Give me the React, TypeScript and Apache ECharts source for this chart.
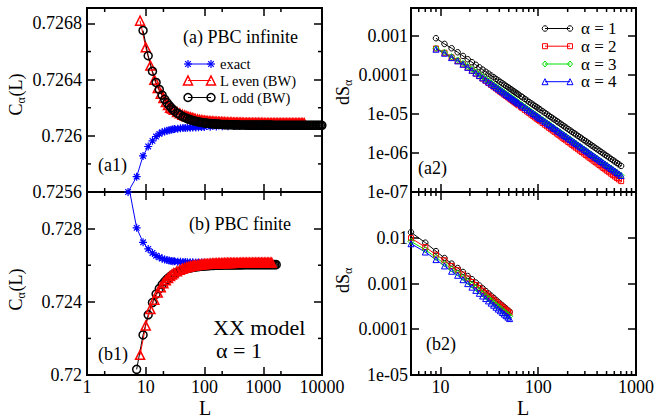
import React, { useEffect, useRef } from 'react';
import * as echarts from 'echarts';

const FONT = 'Liberation Serif, serif';

// ---------- panel (a1): PBC infinite ----------
const L_exact_a = [5,7,9,11,13,15,17,19,21,23,25,27,29,31,35,39,43,47,51,57,63,71,79,89,99,125,159,201,251,317,399,501,631,795,1001];
const C_exact_a = [0.7256,0.725709,0.725857,0.725924,0.725964,0.725995,0.726014,0.726025,0.726031,0.726036,0.72604,0.726043,0.726046,0.726048,0.726051,0.726053,0.726055,0.726056,0.726057,0.726058,0.726059,0.72606,0.726061,0.726062,0.726063,0.726064,0.726066,0.726068,0.726069,0.72607,0.72607,0.72607,0.72607,0.72607,0.72607];

const L_even_a = [8,10,12,14,16,18,20,22,24,26,28,30,34,38,42,46,50,54,58,62,66,70,76,82,88,94,100,106,112,120,128,136,144,152,162,172,182,194,206,218,232,246,260,276,292,310,328,348,368,390,414,438,464,492,522,552,586,620,658,696,738,782,828,878,930,986,1044,1106,1172,1242,1316,1394,1478,1566,1660,1758,1862,1974,2092,2216,2348,2488,2636,2792,2958,3134,3320,3518,3728,3950,4186,4434,4698,4978];
const C_even_a = [0.72682,0.72663,0.7265,0.7264,0.72634,0.7263,0.72627,0.72624,0.72622,0.7262,0.726195,0.726185,0.72617,0.72616,0.72615,0.726145,0.72614,0.726135,0.726131,0.726127,0.726123,0.72612,0.726117,0.726114,0.726111,0.726109,0.726107,0.726106,0.726105,0.726104,0.726103,0.726102,0.726101,0.7261,0.7261,0.726099,0.726098,0.726098,0.726097,0.726097,0.726096,0.726096,0.726095,0.726095,0.726095,0.726094,0.726094,0.726094,0.726093,0.726093,0.726093,0.726093,0.726092,0.726092,0.726092,0.726092,0.726091,0.726091,0.726091,0.726091,0.726091,0.726091,0.726091,0.726091,0.726091,0.726091,0.72609,0.72609,0.72609,0.72609,0.72609,0.72609,0.72609,0.72609,0.72609,0.72609,0.72609,0.72609,0.72609,0.72609,0.72609,0.72609,0.72609,0.72609,0.72609,0.72609,0.72609,0.72609,0.72609,0.72609,0.72609,0.72609,0.72609,0.72609];

const L_odd_a = [9,11,13,15,17,19,21,23,25,27,29,31,35,39,43,47,51,55,59,63,67,71,77,83,89,95,101,107,113,121,129,137,145,153,163,173,183,195,207,219,233,247,261,277,293,311,329,349,369,391,415,439,465,493,523,553,587,621,659,697,739,783,829,879,931,987,1045,1107,1173,1243,1317,1395,1479,1567,1661,1759,1863,1975,2093,2217,2349,2489,2637,2793,2959,3135,3321,3519,3729,3951,4187,4435,4699,4979,5275,5589,5921,6273,6647,7043,7461,7905,8375,8873,9401,9959];
const C_odd_a = [0.72675,0.72657,0.72646,0.72638,0.72633,0.72629,0.72626,0.726236,0.726217,0.726201,0.726187,0.726176,0.726159,0.726147,0.726136,0.726129,0.726122,0.726117,0.726113,0.726109,0.726106,0.726104,0.7261,0.726098,0.726095,0.726093,0.726092,0.726091,0.726089,0.726088,0.726087,0.726086,0.726085,0.726084,0.726083,0.726083,0.726082,0.726081,0.726081,0.72608,0.72608,0.72608,0.726079,0.726079,0.726079,0.726078,0.726078,0.726078,0.726078,0.726077,0.726077,0.726077,0.726077,0.726077,0.726076,0.726076,0.726076,0.726076,0.726076,0.726076,0.726076,0.726076,0.726076,0.726076,0.726076,0.726076,0.726076,0.726076,0.726076,0.726076,0.726076,0.726076,0.726075,0.726075,0.726075,0.726075,0.726075,0.726075,0.726075,0.726075,0.726075,0.726075,0.726075,0.726075,0.726075,0.726075,0.726075,0.726075,0.726075,0.726075,0.726075,0.726075,0.726075,0.726075,0.726075,0.726075,0.726075,0.726075,0.726075,0.726075,0.726075,0.726075,0.726075,0.726075,0.726075,0.726075];

// ---------- panel (b1): PBC finite ----------
const L_exact_b = [5,7,9,11,13,15,17,19,21,23,25,27,29,31,35,39,43,47,51,57,63,71,79,89,99,125,159,201,251,317,399,501,631,795,1001];
const C_exact_b = [0.7305,0.72804,0.72725,0.72689,0.72667,0.72652,0.72643,0.72636,0.72631,0.72628,0.726255,0.72623,0.72622,0.72621,0.726195,0.726185,0.726175,0.72617,0.726165,0.72616,0.726155,0.726152,0.72615,0.726148,0.726147,0.726146,0.726145,0.726145,0.726144,0.726144,0.726144,0.726143,0.726143,0.726143,0.726143];

const L_odd_b = [7,9,11,13,15,17,19,21,23,25,27,29,31,35,39,43,47,51,55,59,63,67,71,77,83,89,95,101,107,113,121,129,137,145,153,163,173,183,195,207,219,233,247,261,277,293,311,329,349,369,391,415,439,465,493,523,553,587,621,659,697,739,783,829,879,931,987,1045,1107,1173,1243,1317,1395,1479,1567,1661];
const C_odd_b = [0.72031,0.72219,0.72329,0.72396,0.72442,0.72472,0.72494,0.725106,0.725235,0.725337,0.72542,0.725487,0.725544,0.725632,0.725697,0.725746,0.725785,0.725816,0.725841,0.725862,0.725879,0.725894,0.725906,0.725922,0.725934,0.725944,0.725953,0.725961,0.725967,0.725972,0.725979,0.725984,0.725988,0.725992,0.725995,0.725999,0.726002,0.726004,0.726007,0.726009,0.726011,0.726013,0.726014,0.726015,0.726017,0.726018,0.726019,0.72602,0.726021,0.726022,0.726022,0.726023,0.726023,0.726024,0.726024,0.726025,0.726025,0.726026,0.726026,0.726026,0.726027,0.726027,0.726027,0.726028,0.726028,0.726028,0.726028,0.726029,0.726029,0.726029,0.726029,0.72603,0.72603,0.72603,0.72603,0.72603];

const L_even_b = [8,10,12,14,16,18,20,22,24,26,28,30,34,38,42,46,50,54,58,62,66,70,76,82,88,94,100,106,112,120,128,136,144,152,162,172,182,194,206,218,232,246,260,276,292,310,328,348,368,390,414,438,464,492,522,552,586,620,658,696,738,782,828,878,930,986,1044,1106,1172,1242,1316,1394];
const C_even_b = [0.7211,0.7227,0.7236,0.72411,0.72451,0.7248,0.725013,0.725178,0.725306,0.725409,0.725493,0.725563,0.72567,0.725748,0.72581,0.725854,0.725892,0.725921,0.725946,0.725966,0.725983,0.725997,0.726016,0.72603,0.726042,0.726052,0.726061,0.726068,0.726074,0.726081,0.726087,0.726092,0.726097,0.7261,0.726104,0.726108,0.726111,0.726113,0.726116,0.726118,0.72612,0.726122,0.726124,0.726125,0.726126,0.726128,0.726129,0.72613,0.726131,0.726131,0.726132,0.726133,0.726133,0.726134,0.726134,0.726135,0.726135,0.726136,0.726136,0.726137,0.726137,0.726137,0.726138,0.726138,0.726138,0.726138,0.726139,0.726139,0.726139,0.72614,0.72614,0.72614];

// ---------- panel (a2): dS_alpha, infinite ----------
const L_a2 = [9,11,13,15,17,19,21,23,25,27,29,31,33,35,37,39,41,43,45,47,49,51,53,55,57,59,61,63,67,69,73,77,81,85,89,93,97,101,105,111,117,123,129,135,141,147,155,161,169,177,185,193,203,213,223,233,243,255,267,279,293,307,321,335,351,367,385,403,423,443,463,485,507,531,557,583,609,639,669,705];
const dS1_a2 = [8.73e-4,6.24e-4,4.84e-4,3.82e-4,3.07e-4,2.53e-4,2.12e-4,1.82e-4,1.57e-4,1.37e-4,1.21e-4,1.08e-4,9.67e-5,8.73e-5,7.92e-5,7.23e-5,6.62e-5,6.10e-5,5.63e-5,5.22e-5,4.86e-5,4.53e-5,4.24e-5,3.97e-5,3.73e-5,3.51e-5,3.32e-5,3.13e-5,2.82e-5,2.68e-5,2.43e-5,2.21e-5,2.02e-5,1.86e-5,1.72e-5,1.59e-5,1.48e-5,1.38e-5,1.29e-5,1.17e-5,1.07e-5,9.77e-6,8.99e-6,8.31e-6,7.70e-6,7.16e-6,6.53e-6,6.11e-6,5.62e-6,5.18e-6,4.80e-6,4.46e-6,4.08e-6,3.76e-6,3.47e-6,3.21e-6,2.99e-6,2.75e-6,2.53e-6,2.35e-6,2.15e-6,1.99e-6,1.84e-6,1.71e-6,1.57e-6,1.46e-6,1.34e-6,1.24e-6,1.14e-6,1.05e-6,9.71e-7,8.96e-7,8.29e-7,7.65e-7,7.04e-7,6.50e-7,6.02e-7,5.54e-7,5.11e-7,4.67e-7];
const dS2_a2 = [4.77e-4,3.70e-4,2.82e-4,2.29e-4,1.86e-4,1.54e-4,1.28e-4,1.08e-4,9.29e-5,8.04e-5,7.06e-5,6.22e-5,5.55e-5,4.98e-5,4.49e-5,4.07e-5,3.71e-5,3.40e-5,3.12e-5,2.88e-5,2.67e-5,2.48e-5,2.31e-5,2.15e-5,2.01e-5,1.89e-5,1.78e-5,1.67e-5,1.49e-5,1.41e-5,1.27e-5,1.15e-5,1.05e-5,9.60e-6,8.82e-6,8.13e-6,7.52e-6,6.97e-6,6.49e-6,5.86e-6,5.31e-6,4.84e-6,4.43e-6,4.07e-6,3.76e-6,3.48e-6,3.15e-6,2.94e-6,2.68e-6,2.46e-6,2.27e-6,2.10e-6,1.91e-6,1.75e-6,1.61e-6,1.48e-6,1.37e-6,1.25e-6,1.15e-6,1.06e-6,9.68e-7,8.88e-7,8.18e-7,7.55e-7,6.93e-7,6.37e-7,5.83e-7,5.36e-7,4.90e-7,4.50e-7,4.14e-7,3.80e-7,3.50e-7,3.21e-7,2.94e-7,2.70e-7,2.49e-7,2.28e-7,2.10e-7,1.90e-7];
const dS3_a2 = [4.83e-4,3.82e-4,2.95e-4,2.43e-4,1.99e-4,1.66e-4,1.40e-4,1.19e-4,1.03e-4,8.96e-5,7.91e-5,7.02e-5,6.16e-5,5.55e-5,5.03e-5,4.58e-5,4.19e-5,3.85e-5,3.55e-5,3.28e-5,3.05e-5,2.84e-5,2.65e-5,2.48e-5,2.33e-5,2.19e-5,2.06e-5,1.95e-5,1.74e-5,1.66e-5,1.50e-5,1.36e-5,1.24e-5,1.14e-5,1.05e-5,9.72e-6,9.02e-6,8.39e-6,7.83e-6,7.09e-6,6.46e-6,5.91e-6,5.43e-6,5.01e-6,4.63e-6,4.30e-6,3.91e-6,3.66e-6,3.35e-6,3.09e-6,2.85e-6,2.65e-6,2.42e-6,2.22e-6,2.05e-6,1.89e-6,1.76e-6,1.61e-6,1.48e-6,1.37e-6,1.26e-6,1.16e-6,1.07e-6,9.91e-7,9.12e-7,8.41e-7,7.73e-7,7.12e-7,6.54e-7,6.02e-7,5.56e-7,5.12e-7,4.73e-7,4.36e-7,4.00e-7,3.69e-7,3.41e-7,3.13e-7,2.89e-7,2.63e-7];
const dS4_a2 = [4.56e-4,3.60e-4,2.78e-4,2.29e-4,1.88e-4,1.57e-4,1.32e-4,1.12e-4,9.70e-5,8.45e-5,7.46e-5,6.62e-5,5.93e-5,5.35e-5,4.85e-5,4.42e-5,4.04e-5,3.72e-5,3.43e-5,3.18e-5,2.95e-5,2.75e-5,2.57e-5,2.41e-5,2.26e-5,2.13e-5,2.00e-5,1.89e-5,1.70e-5,1.61e-5,1.46e-5,1.33e-5,1.21e-5,1.12e-5,1.03e-5,9.51e-6,8.83e-6,8.22e-6,7.68e-6,6.96e-6,6.34e-6,5.80e-6,5.34e-6,4.93e-6,4.56e-6,4.24e-6,3.86e-6,3.61e-6,3.31e-6,3.05e-6,2.82e-6,2.62e-6,2.40e-6,2.20e-6,2.03e-6,1.88e-6,1.74e-6,1.60e-6,1.48e-6,1.37e-6,1.25e-6,1.15e-6,1.07e-6,9.89e-7,9.10e-7,8.41e-7,7.73e-7,7.13e-7,6.55e-7,6.03e-7,5.58e-7,5.14e-7,4.75e-7,4.38e-7,4.02e-7,3.71e-7,3.44e-7,3.16e-7,2.91e-7,2.65e-7];

// ---------- panel (b2): dS_alpha, finite ----------
const L_b2 = [5,7,9,11,13,15,17,19,21,23,25,27,29,31,33,35,37,39,41,43,45,47,49,51];
const dS1_b2 = [0.0132,0.0078,0.0051,0.0036,0.00272,0.00218,0.00179,0.00146,0.00124,0.00105,9.02e-4,7.82e-4,6.85e-4,6.05e-4,5.40e-4,4.84e-4,4.37e-4,3.96e-4,3.60e-4,3.30e-4,3.04e-4,2.81e-4,2.59e-4,2.41e-4];
const dS2_b2 = [0.0098,0.00625,0.00427,0.00321,0.00242,0.00195,1.57e-3,1.29e-3,1.08e-3,9.23e-4,7.98e-4,6.97e-4,6.15e-4,5.47e-4,4.91e-4,4.43e-4,4.02e-4,3.66e-4,3.36e-4,3.09e-4,2.85e-4,2.64e-4,2.45e-4,2.29e-4];
const dS3_b2 = [8.3e-3,5.45e-3,3.73e-3,2.71e-3,2.07e-3,1.69e-3,1.36e-3,1.11e-3,9.32e-4,7.93e-4,6.83e-4,5.96e-4,5.24e-4,4.66e-4,4.17e-4,3.75e-4,3.39e-4,3.09e-4,2.83e-4,2.60e-4,2.40e-4,2.22e-4,2.06e-4,1.92e-4];
const dS4_b2 = [7.4e-3,4.87e-3,3.33e-3,2.42e-3,1.85e-3,1.51e-3,1.21e-3,9.93e-4,8.32e-4,7.08e-4,6.10e-4,5.32e-4,4.68e-4,4.16e-4,3.72e-4,3.35e-4,3.03e-4,2.76e-4,2.53e-4,2.32e-4,2.14e-4,1.98e-4,1.84e-4,1.71e-4];

// ---------- axes / ticks ----------
const X_RANGE_LEFT = [1, 10000];
const X_RANGE_RIGHT = [5, 1000];
const Y_A1 = { min: 0.7256, max: 0.72691, interval: 0.0004 };
const Y_B1 = { min: 0.72, max: 0.73, interval: 0.004 };
const Y_A2 = { min: 1e-7, max: 0.0052 };
const Y_B2 = { min: 1e-5, max: 0.1 };
const MINOR_X_LEFT = [2, 20, 200, 2000];
const MINOR_X_RIGHT = [6, 7, 8, 9, 20, 30, 40, 50, 60, 70, 80, 90, 200, 300, 400, 500, 600, 700, 800, 900];
const MINOR_Y_A1 = [0.7258, 0.7262, 0.7266];
const MINOR_Y_B1 = [0.722, 0.726];

const BLUE = '#0000ff';
const RED = '#ff0000';
const GREEN = '#00e000';
const BLACK = '#000000';
const CLEAR = 'rgba(0,0,0,0)';
const STAR = 'path://M5 0L5 10M0 5L10 5M1.5 1.5L8.5 8.5M1.5 8.5L8.5 1.5';

const pairs = (xs: number[], ys: number[]) => xs.map((x, i) => [x, ys[i]]);

function fmtLog(v: number) {
  const e = Math.round(Math.log10(v));
  if (Math.abs(Math.log10(v) - e) > 0.01) return '';
  if (e >= 0) return String(Math.round(Math.pow(10, e)));
  if (e >= -4) return Math.pow(10, e).toFixed(-e);
  return '1e-' + String(-e).padStart(2, '0');
}

export default function App() {
  const ref = useRef<HTMLDivElement>(null);
  useEffect(() => {
    const el = ref.current as HTMLDivElement;
    const chart = echarts.init(el, null, { renderer: 'svg' });

    const grids = [
      { left: 87, top: 8, width: 235, height: 184 },
      { left: 87, top: 192, width: 235, height: 183 },
      { left: 411, top: 8, width: 225, height: 184 },
      { left: 411, top: 192, width: 225, height: 183 },
    ].map((g) => ({ ...g, show: true, borderColor: '#000', borderWidth: 2, backgroundColor: 'transparent', containLabel: false }));

    const tick = { show: true, inside: true, length: 8, lineStyle: { color: '#000', width: 1.5 } };
    const lbl = { fontFamily: FONT, fontSize: 18, color: '#000' };

    const xr = [X_RANGE_LEFT, X_RANGE_LEFT, X_RANGE_RIGHT, X_RANGE_RIGHT];
    const xAxes: any[] = [];
    for (let k = 0; k < 2; k++) {
      for (let i = 0; i < 4; i++) {
        xAxes.push({
          gridIndex: i,
          type: 'log',
          logBase: 10,
          min: xr[i][0],
          max: xr[i][1],
          position: k === 0 ? 'bottom' : 'top',
          axisLine: { show: false },
          axisTick: tick,
          splitLine: { show: false },
          axisLabel: {
            ...lbl,
            show: k === 0 && (i === 1 || i === 3),
            margin: 3,
            showMinLabel: i === 1,
            showMaxLabel: true,
            formatter: (v: number) => fmtLog(v),
          },
        });
      }
    }

    const yDefs: any[] = [
      { type: 'value', ...Y_A1, fmt: (v: number) => (v > 0.7269 ? '' : String(parseFloat(v.toFixed(4)))) },
      { type: 'value', ...Y_B1, fmt: (v: number) => (v > 0.729 ? '' : String(parseFloat(v.toFixed(3)))) },
      { type: 'log', ...Y_A2, fmt: fmtLog },
      { type: 'log', ...Y_B2, fmt: (v: number) => (v > 0.05 ? '' : fmtLog(v)) },
    ];
    const yAxes: any[] = [];
    for (let k = 0; k < 2; k++) {
      for (let i = 0; i < 4; i++) {
        const d = yDefs[i];
        const ax: any = {
          gridIndex: i,
          type: d.type,
          min: d.min,
          max: d.max,
          position: k === 0 ? 'left' : 'right',
          axisLine: { show: false },
          axisTick: tick,
          splitLine: { show: false },
          axisLabel: {
            ...lbl,
            show: k === 0,
            margin: i < 2 ? 5 : 3,
            showMinLabel: true,
            showMaxLabel: false,
            formatter: (v: number) => d.fmt(v),
          },
        };
        if (d.type === 'value') ax.interval = d.interval;
        if (d.type === 'log') ax.logBase = 10;
        yAxes.push(ax);
      }
    }

    const mk = (name: string, g: number, xs: number[], ys: number[], color: string, symbol: string, size: number, bw: number, clip: boolean) => ({
      name,
      type: 'line',
      xAxisIndex: g,
      yAxisIndex: g,
      data: pairs(xs, ys),
      symbol,
      symbolSize: size,
      showAllSymbol: true,
      clip,
      itemStyle: { color: CLEAR, borderColor: color, borderWidth: bw },
      lineStyle: { color, width: 1 },
      emphasis: { disabled: true },
    });

    const series = [
      mk('exact a', 0, L_exact_a, C_exact_a, BLUE, STAR, 8, 1.2, false),
      mk('even a', 0, L_even_a, C_even_a, RED, 'triangle', 9, 1.5, false),
      mk('odd a', 0, L_odd_a, C_odd_a, BLACK, 'circle', 8, 1.5, false),
      mk('exact b', 1, L_exact_b, C_exact_b, BLUE, STAR, 8, 1.2, true),
      mk('odd b', 1, L_odd_b, C_odd_b, BLACK, 'circle', 8, 1.5, true),
      mk('even b', 1, L_even_b, C_even_b, RED, 'triangle', 9, 1.5, true),
      mk('a1', 2, L_a2, dS1_a2, BLACK, 'circle', 5.5, 1, false),
      mk('a2', 2, L_a2, dS2_a2, RED, 'rect', 5, 1, false),
      mk('a3', 2, L_a2, dS3_a2, GREEN, 'diamond', 6, 1, false),
      mk('a4', 2, L_a2, dS4_a2, BLUE, 'triangle', 6, 1, false),
      mk('b1', 3, L_b2, dS1_b2, BLACK, 'circle', 5.5, 1, false),
      mk('b2', 3, L_b2, dS2_b2, RED, 'rect', 5, 1, false),
      mk('b3', 3, L_b2, dS3_b2, GREEN, 'diamond', 6, 1, false),
      mk('b4', 3, L_b2, dS4_b2, BLUE, 'triangle', 6, 1, false),
    ];

    chart.setOption({
      animation: false,
      backgroundColor: '#fff',
      grid: grids,
      xAxis: xAxes,
      yAxis: yAxes,
      series,
    });

    // ---------- graphics ----------
    const G: any[] = [];
    const line = (x1: number, y1: number, x2: number, y2: number, color = '#000', w = 1.5) =>
      G.push({ type: 'line', silent: true, z: 50, shape: { x1, y1, x2, y2 }, style: { stroke: color, lineWidth: w } });
    const text = (x: number, y: number, t: string, size: number, align = 'left', lh?: number) =>
      G.push({ type: 'text', silent: true, z: 50, x, y, style: { text: t, fontFamily: FONT, fontSize: size, lineHeight: lh || size, fill: '#000', align, verticalAlign: 'middle' } });

    // minor ticks
    const px = (ax: number, v: number) => chart.convertToPixel({ xAxisIndex: ax } as any, v) as unknown as number;
    const py = (ax: number, v: number) => chart.convertToPixel({ yAxisIndex: ax } as any, v) as unknown as number;
    const ML = 4;
    for (let i = 0; i < 4; i++) {
      const g = grids[i];
      const top = g.top, bot = g.top + g.height, left = g.left, right = g.left + g.width;
      const xs = i < 2 ? MINOR_X_LEFT : MINOR_X_RIGHT;
      xs.forEach((v) => {
        const x = px(i, v);
        line(x, bot, x, bot - ML);
        line(x, top, x, top + ML);
      });
      const ys = i === 0 ? MINOR_Y_A1 : i === 1 ? MINOR_Y_B1 : [];
      ys.forEach((v) => {
        const y = py(i, v);
        line(left, y, left + ML, y);
        line(right, y, right - ML, y);
      });
    }

    const marker = (kind: string, cx: number, cy: number, s: number, color: string, w: number) => {
      const st = { stroke: color, lineWidth: w, fill: 'none' };
      if (kind === 'circle') G.push({ type: 'circle', silent: true, z: 50, shape: { cx, cy, r: s / 2 }, style: st });
      else if (kind === 'rect') G.push({ type: 'rect', silent: true, z: 50, shape: { x: cx - s / 2, y: cy - s / 2, width: s, height: s }, style: st });
      else if (kind === 'triangle') G.push({ type: 'polygon', silent: true, z: 50, shape: { points: [[cx, cy - s / 2], [cx + s / 2, cy + s / 2], [cx - s / 2, cy + s / 2]] }, style: st });
      else if (kind === 'diamond') G.push({ type: 'polygon', silent: true, z: 50, shape: { points: [[cx, cy - s / 2], [cx + s / 2.4, cy], [cx, cy + s / 2], [cx - s / 2.4, cy]] }, style: st });
      else if (kind === 'star') {
        const r = s / 2, d = r * 0.7;
        line(cx, cy - r, cx, cy + r, color, w);
        line(cx - r, cy, cx + r, cy, color, w);
        line(cx - d, cy - d, cx + d, cy + d, color, w);
        line(cx - d, cy + d, cx + d, cy - d, color, w);
      }
    };

    // legend (a1)
    const legA = [
      { y: 64, c: BLUE, k: 'star', s: 8, w: 1.2, t: 'exact' },
      { y: 80.5, c: RED, k: 'triangle', s: 9, w: 1.5, t: 'L even (BW)' },
      { y: 97.5, c: BLACK, k: 'circle', s: 8, w: 1.5, t: 'L odd (BW)' },
    ];
    legA.forEach((r) => {
      line(188, r.y, 211, r.y, r.c, 1);
      marker(r.k, 188, r.y, r.s, r.c, r.w);
      marker(r.k, 211, r.y, r.s, r.c, r.w);
      text(220, r.y, r.t, 14.5);
    });
    // legend (a2)
    const legB = [
      { y: 28.5, c: BLACK, k: 'circle', s: 5.5, t: 'α = 1' },
      { y: 46.2, c: RED, k: 'rect', s: 5, t: 'α = 2' },
      { y: 64, c: GREEN, k: 'diamond', s: 6, t: 'α = 3' },
      { y: 81.7, c: BLUE, k: 'triangle', s: 6, t: 'α = 4' },
    ];
    legB.forEach((r) => {
      line(545, r.y, 570, r.y, r.c, 1);
      marker(r.k, 545, r.y, r.s, r.c, 1);
      marker(r.k, 570, r.y, r.s, r.c, 1);
      text(581, r.y, r.t, 17, 'left', 16);
    });

    // panel texts
    text(183, 37, '(a) PBC infinite', 18);
    text(98, 165, '(a1)', 18);
    text(189, 224, '(b) PBC finite', 18);
    text(98, 354, '(b1)', 18);
    text(213, 327, 'XX model', 22);
    text(216, 350, 'α = 1', 22);
    text(418, 168, '(a2)', 18);
    text(426, 344, '(b2)', 18);

    // axis titles
    text(205, 408, 'L', 20, 'center');
    text(523, 408, 'L', 20, 'center');
    const yTitle = (x: number, y: number, parts: { t: string; dx: number; dy: number; fs: number }[]) =>
      G.push({
        type: 'group', x, y, rotation: Math.PI / 2, silent: true, z: 50,
        children: parts.map((p) => ({ type: 'text', x: p.dx, y: p.dy, style: { text: p.t, fontFamily: FONT, fontSize: p.fs, fill: '#000', align: 'left', verticalAlign: 'middle' } })),
      });
    const cParts = [
      { t: 'C', dx: -21.5, dy: 0, fs: 18 },
      { t: 'α', dx: -9.5, dy: 5, fs: 12 },
      { t: '(L)', dx: -2.5, dy: 0, fs: 18 },
    ];
    const dParts = [
      { t: 'd', dx: -13, dy: 0, fs: 18 },
      { t: 'S', dx: -4, dy: 0, fs: 18 },
      { t: 'α', dx: 6, dy: 5, fs: 12 },
    ];
    yTitle(16, 94, cParts);
    yTitle(16, 289, cParts);
    yTitle(343, 92, dParts);
    yTitle(343, 280, dParts);

    chart.setOption({ graphic: G });

    return () => chart.dispose();
  }, []);

  return <div ref={ref} style={{ position: 'fixed', left: 0, top: 0, width: 668, height: 418, background: '#fff' }} />;
}
